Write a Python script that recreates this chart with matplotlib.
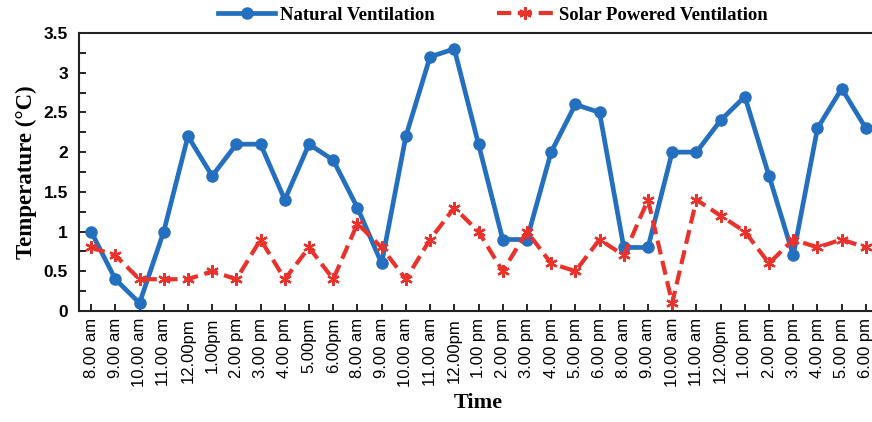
import matplotlib
matplotlib.use("Agg")
import matplotlib.pyplot as plt

day_times = ["8.00 am", "9.00 am", "10.00 am", "11.00 am", "12.00pm", "1.00pm",
             "2.00 pm", "3.00 pm", "4.00 pm", "5.00pm", "6.00pm"]
day_times2 = ["8.00 am", "9.00 am", "10.00 am", "11.00 am", "12.00pm", "1.00 pm",
              "2.00 pm", "3.00 pm", "4.00 pm", "5.00 pm", "6.00 pm"]
time_labels = day_times + day_times2 + day_times2

natural = [1.0, 0.4, 0.1, 1.0, 2.2, 1.7, 2.1, 2.1, 1.4, 2.1, 1.9,
           1.3, 0.6, 2.2, 3.2, 3.3, 2.1, 0.9, 0.9, 2.0, 2.6, 2.5,
           0.8, 0.8, 2.0, 2.0, 2.4, 2.7, 1.7, 0.7, 2.3, 2.8, 2.3]
solar = [0.8, 0.7, 0.4, 0.4, 0.4, 0.5, 0.4, 0.9, 0.4, 0.8, 0.4,
         1.1, 0.8, 0.4, 0.9, 1.3, 1.0, 0.5, 1.0, 0.6, 0.5, 0.9,
         0.7, 1.4, 0.1, 1.4, 1.2, 1.0, 0.6, 0.9, 0.8, 0.9, 0.8]

W, H = 872, 422
fig = plt.figure(figsize=(W / 100, H / 100), dpi=100)
ax = fig.add_axes([79 / W, 1 - 311 / H, (878 - 79) / W, (311 - 33) / H])

x = list(range(len(time_labels)))
ax.plot(x, natural, color="#2470BE", lw=3.4, marker="o", markersize=8,
        label="Natural Ventilation", zorder=3, solid_joinstyle="round")
ax.plot(x, solar, color="#E8322B", lw=3.0, ls=(0, (3.4, 1.6)), marker=(6, 2, 0),
        markersize=9, markeredgewidth=1.6, label="Solar Powered Ventilation", zorder=4)

ax.set_xlim(-0.5, len(time_labels) - 0.5)
ax.set_ylim(0, 3.5)
ax.set_yticks([0, 0.5, 1, 1.5, 2, 2.5, 3, 3.5])
ax.set_yticklabels(["0", "0.5", "1", "1.5", "2", "2.5", "3", "3.5"])
ax.set_yticks([0.25, 0.75, 1.25, 1.75, 2.25, 2.75, 3.25], minor=True)
ax.set_xticks(x)
ax.set_xticklabels(time_labels, rotation=90, fontsize=12,
                   family="Liberation Sans", va="top")

for lab in ax.get_yticklabels():
    lab.set_fontweight("bold")
    lab.set_family("Liberation Sans")
    lab.set_fontsize(12.5)

ax.tick_params(axis="y", which="both", direction="in", length=5, width=1.2, pad=8)
ax.tick_params(axis="x", which="both", direction="in", length=5, width=1.2, pad=5)

for s in ["left", "bottom", "top"]:
    ax.spines[s].set_linewidth(1.5)
    ax.spines[s].set_color("#222222")
ax.spines["right"].set_visible(False)

ax.set_ylabel("Temperature (°C)", family="Liberation Serif", fontweight="bold",
              fontsize=16.5, labelpad=5)
ax.set_xlabel("Time", family="Liberation Serif", fontweight="bold", fontsize=16,
              labelpad=4)

leg = fig.legend(loc="center", bbox_to_anchor=(493 / W, 1 - 15 / H), ncol=2,
                 frameon=False, prop={"family": "Liberation Serif", "weight": "bold",
                                      "size": 13.5},
                 handlelength=3.0, columnspacing=3.3, handletextpad=0.3,
                 borderaxespad=0)

fig.savefig("out.png", dpi=100)
